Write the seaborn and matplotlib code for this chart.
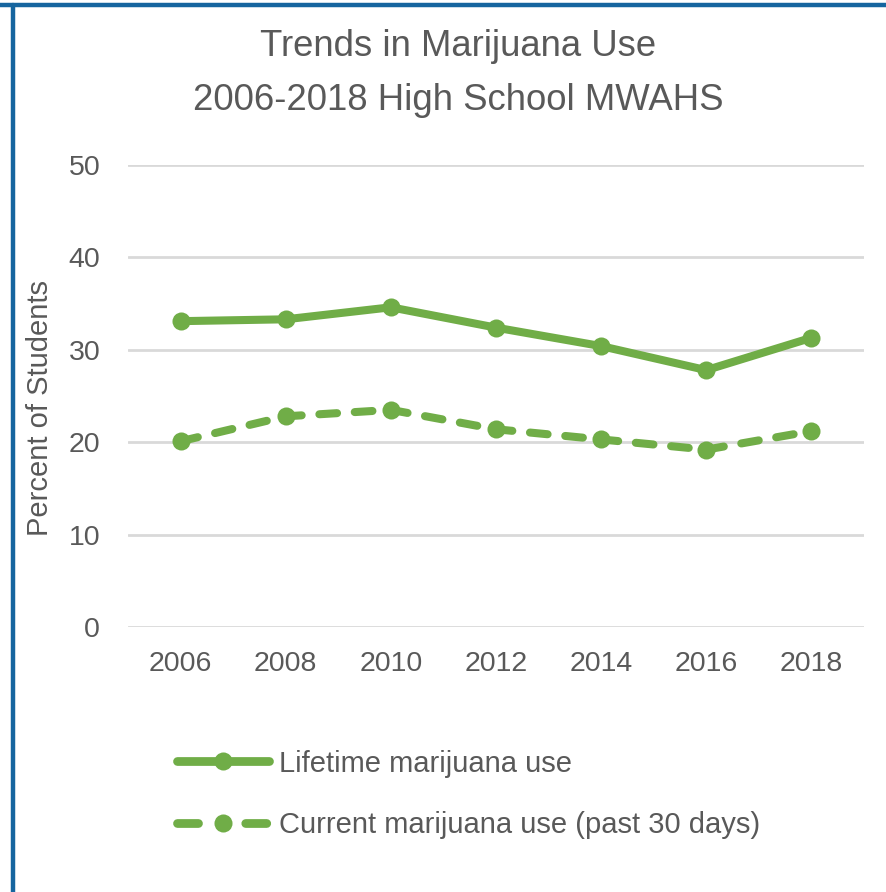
import matplotlib
matplotlib.use("Agg")
import matplotlib.pyplot as plt
from matplotlib.lines import Line2D
import seaborn as sns
import pandas as pd

years = ["2006", "2008", "2010", "2012", "2014", "2016", "2018"]
lifetime = [33.1, 33.3, 34.6, 32.4, 30.4, 27.8, 31.3]
current = [20.1, 22.8, 23.5, 21.4, 20.3, 19.2, 21.2]
series_names = ["Lifetime marijuana use", "Current marijuana use (past 30 days)"]
yticks = [0, 10, 20, 30, 40, 50]
title_lines = ["Trends in Marijuana Use", "2006-2018 High School MWAHS"]
ylabel = "Percent of Students"

sns.set_theme(style="white")
plt.rcParams["font.family"] = ["Liberation Sans", "DejaVu Sans"]

GREEN = "#70AD47"
TEXT = "#595959"
GRID = "#D9D9D9"
BORDER = "#16659F"

df = pd.DataFrame({
    "year": years * 2,
    "value": lifetime + current,
    "series": [series_names[0]] * len(years) + [series_names[1]] * len(years),
})

fig = plt.figure(figsize=(8.86, 8.92), dpi=100)
ax = fig.add_axes([128 / 886, 1 - 627 / 892, (864 - 128) / 886, (627 - 165) / 892])

lw = 5.8
ms = 13
sns.lineplot(data=df[df.series == series_names[0]], x="year", y="value", ax=ax,
             color=GREEN, linewidth=lw, marker="o", markersize=ms,
             markeredgewidth=0, label=series_names[0], solid_capstyle="round")
sns.lineplot(data=df[df.series == series_names[1]], x="year", y="value", ax=ax,
             color=GREEN, linewidth=lw, marker="o", markersize=ms,
             markeredgewidth=0, label=series_names[1], dashes=False)
line2 = ax.get_lines()[1]
line2.set_dashes((2.2, 2.2))
line2.set_dash_capstyle("round")

ax.set_xlim(-0.5, len(years) - 0.5)
ax.set_ylim(0, 50)
ax.set_yticks(yticks)
ax.yaxis.grid(True, color=GRID, linewidth=2)
ax.set_axisbelow(True)
for s in ax.spines.values():
    s.set_visible(False)
ax.tick_params(axis="both", length=0, labelsize=20.5, labelcolor=TEXT)
ax.tick_params(axis="x", pad=17)
ax.tick_params(axis="y", pad=20)
ax.set_xlabel("")
ax.set_ylabel("")

handles, labels = ax.get_legend_handles_labels()
if ax.get_legend():
    ax.get_legend().remove()
leg = fig.legend(handles, labels, loc="upper left",
                 bbox_to_anchor=(165 / 886, 1 - 738 / 892),
                 frameon=False, fontsize=21, handlelength=3.15,
                 handletextpad=0.35, labelspacing=1.15, borderaxespad=0)
for t in leg.get_texts():
    t.set_color(TEXT)
for h in leg.get_lines():
    h.set_solid_capstyle("round")
    h.set_linewidth(6.3)
    if h.get_linestyle() not in ("-", "solid"):
        h.set_dashes((2.4, 5.4, 2.4, 30))
        h.set_dash_capstyle("round")

fig.text(40 / 886, 1 - 408 / 892, ylabel, rotation=90, ha="center", va="center",
         fontsize=21, color=TEXT)
fig.text(458 / 886, 1 - 47 / 892, title_lines[0], ha="center", va="center",
         fontsize=26.3, color=TEXT)
fig.text(458 / 886, 1 - 100 / 892, title_lines[1], ha="center", va="center",
         fontsize=26.3, color=TEXT)

fig.add_artist(Line2D([0, 1], [1 - 5 / 892, 1 - 5 / 892], transform=fig.transFigure,
                      color=BORDER, linewidth=3.2))
fig.add_artist(Line2D([13 / 886, 13 / 886], [0, 1 - 5 / 892], transform=fig.transFigure,
                      color=BORDER, linewidth=3.2))

fig.savefig("out.png", dpi=100, facecolor="white")
